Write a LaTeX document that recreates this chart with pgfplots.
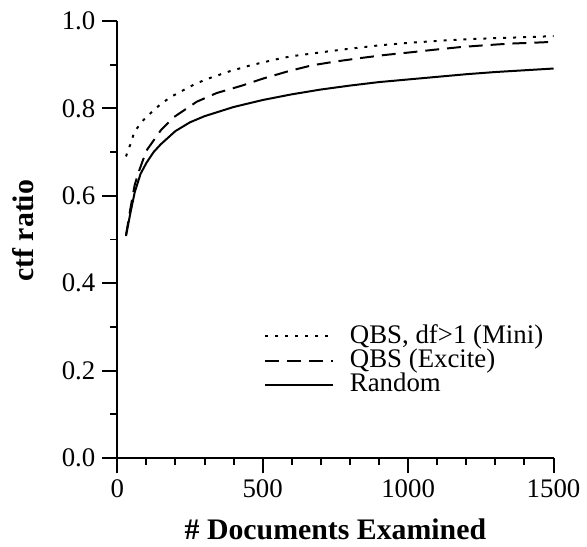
\documentclass[border=0pt]{standalone}
\usepackage{fontspec}
\setmainfont{Liberation Serif}
\usepackage{pgfplots}
\pgfplotsset{compat=1.18}

% values
\pgfplotstableread{
x     y
30    0.690
48    0.723
58    0.745
85    0.770
116   0.790
150   0.810
184   0.826
223   0.840
263   0.854
304   0.866
383   0.884
462   0.899
553   0.913
598   0.919
700   0.928
782   0.935
900   0.944
1008  0.950
1120  0.955
1237  0.959
1370  0.962
1500  0.965
}\mini

\pgfplotstableread{
x     y
30    0.510
45    0.570
60    0.625
75    0.657
100   0.703
150   0.750
195   0.780
273   0.815
342   0.835
424   0.851
506   0.869
584   0.884
667   0.898
750   0.907
837   0.915
920   0.922
1008  0.928
1090  0.934
1179  0.940
1260  0.944
1350  0.948
1430  0.950
1500  0.952
}\excite

\pgfplotstableread{
x     y
30    0.508
45    0.560
60    0.608
80    0.650
100   0.675
125   0.700
150   0.718
200   0.748
250   0.768
300   0.782
400   0.803
500   0.819
600   0.832
700   0.843
800   0.852
900   0.860
1000  0.866
1100  0.872
1200  0.878
1300  0.883
1400  0.887
1500  0.891
}\random

\begin{document}
\begin{tikzpicture}
\begin{axis}[
    scale only axis,
    width=219.5pt, height=220pt,
    xmin=0, xmax=1500, ymin=0, ymax=1,
    axis x line=bottom, axis y line=left,
    axis line style={-, line width=1pt},
    every tick/.style={black, line width=1pt},
    tick align=outside,
    major tick length=7.5pt, minor tick length=3.5pt,
    xtick={0,500,1000,1500}, minor x tick num=4,
    ytick={0,0.2,0.4,0.6,0.8,1.0}, minor y tick num=1,
    font=\fontsize{13.5}{15}\selectfont,
    /pgf/number format/assume math mode=true,
    /pgf/number format/1000 sep={},
    yticklabel style={/pgf/number format/fixed, /pgf/number format/fixed zerofill, /pgf/number format/precision=1},
    xlabel={\bfseries \# Documents Examined},
    ylabel={\bfseries ctf ratio},
    xlabel style={at={(axis description cs:0.5,0)}, anchor=center, yshift=-36pt, font=\fontsize{15}{17}\selectfont},
    ylabel style={at={(axis description cs:0,0.52)}, anchor=center, yshift=47.5pt, font=\fontsize{15}{17}\selectfont},
    legend cell align=left,
    legend style={draw=none, fill=none, at={(rel axis cs:1.0,0.13)}, anchor=south east,
        row sep=0pt, nodes={inner ysep=0pt, text height=9.6pt, text depth=2.6pt},
        font=\fontsize{13.5}{15}\selectfont},
    legend image code/.code={\draw[#1] (0pt,0pt) -- (34pt,0pt); \path (40pt,0pt);},
]
\addplot[black, line width=1pt, dash pattern=on 1.5pt off 3.5pt] table {\mini};
\addlegendentry{QBS, df>1 (Mini)}
\addplot[black, line width=1pt, dash pattern=on 7pt off 4pt] table {\excite};
\addlegendentry{QBS (Excite)}
\addplot[black, line width=1pt] table {\random};
\addlegendentry{Random}
\end{axis}
\path (-59pt,-43.5pt) rectangle (234.5pt,230.5pt);
\end{tikzpicture}
\end{document}
